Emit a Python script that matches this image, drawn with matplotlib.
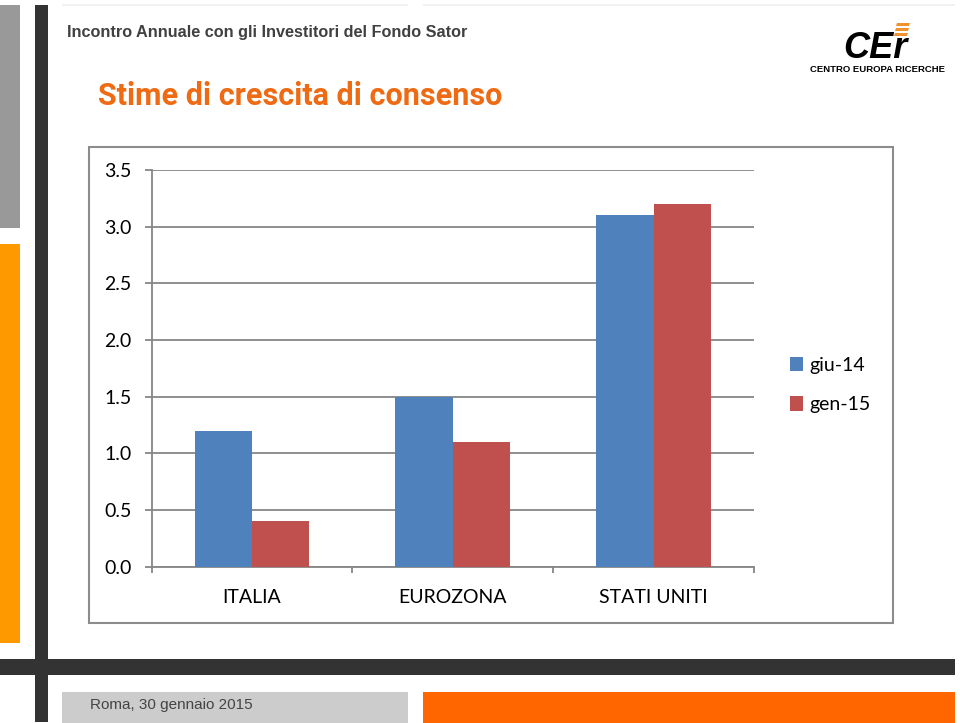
import matplotlib
matplotlib.use("Agg")
import matplotlib.pyplot as plt
from matplotlib.patches import Rectangle, Polygon
import numpy as np

# ---- data ----
categories = ["ITALIA", "EUROZONA", "STATI UNITI"]
series_names = ["giu-14", "gen-15"]
giu_14 = [1.2, 1.5, 3.1]
gen_15 = [0.4, 1.1, 3.2]
y_ticks = [0.0, 0.5, 1.0, 1.5, 2.0, 2.5, 3.0, 3.5]

header_text = "Incontro Annuale con gli Investitori del Fondo Sator"
title_text = "Stime di crescita di consenso"
footer_text = "Roma, 30 gennaio 2015"

W, H = 960, 723
fig = plt.figure(figsize=(W / 100, H / 100), dpi=100)
fig.patch.set_facecolor("white")


def rect(x, y, w, h, color, z=0):
    fig.add_artist(Rectangle((x / W, 1 - (y + h) / H), w / W, h / H,
                             transform=fig.transFigure, facecolor=color,
                             edgecolor="none", zorder=z))


def ftext(x, y, s, **kw):
    fig.text(x / W, 1 - y / H, s, **kw)


# ---- slide decorations ----
rect(0, 5, 20, 223, "#999999")
rect(0, 244, 20, 399, "#FF9900")
rect(35, 5, 13, 717, "#333333", z=2)
rect(0, 659, 955, 16, "#333333", z=1)
rect(62, 692, 346, 31, "#CCCCCC")
rect(423, 692, 532, 31, "#FF6600")
rect(62, 4, 346, 2, "#F2F2F2")
rect(423, 4, 532, 2, "#F2F2F2")

ftext(67, 33, header_text, fontsize=11.7, fontweight="bold", color="#404040",
      family="Liberation Sans", va="center", ha="left")
ftext(98, 96, title_text, fontsize=22, fontweight="bold", color="#EE6A13",
      family="Roboto", va="center", ha="left")
ftext(90, 705, footer_text, fontsize=11, color="#444444",
      family="Liberation Sans", va="center", ha="left")

# logo
ftext(875, 48, "CEr", fontsize=26, fontweight="bold", style="italic",
      color="black", family="Liberation Sans", va="center", ha="center")
for i, yy in enumerate([23, 28, 33]):
    x0 = 897 - i * 1.0
    fig.add_artist(Polygon([(x0 / W, 1 - yy / H), ((x0 + 13) / W, 1 - yy / H),
                            ((x0 + 12) / W, 1 - (yy + 3) / H), ((x0 - 1) / W, 1 - (yy + 3) / H)],
                           closed=True, transform=fig.transFigure,
                           facecolor="#F0922E", edgecolor="none"))
ftext(878, 70, "CENTRO EUROPA RICERCHE", fontsize=6.8, fontweight="bold",
      color="black", family="Liberation Sans", va="center", ha="center")

# chart border
fig.add_artist(Rectangle((89 / W, 1 - 623 / H), (893 - 89) / W, (623 - 147) / H,
                         transform=fig.transFigure, facecolor="none",
                         edgecolor="#8C8C8C", lw=1.5, zorder=3))

# ---- axes ----
L, R, T, B = 151.7, 754, 170, 566.7
ax = fig.add_axes([L / W, 1 - B / H, (R - L) / W, (B - T) / H])
ax.set_facecolor("white")

x = np.arange(len(categories))
bw = 1 / 3.5
b1 = ax.bar(x - bw / 2, giu_14, bw, color="#4F81BD", label=series_names[0], zorder=3)
b2 = ax.bar(x + bw / 2, gen_15, bw, color="#C0504D", label=series_names[1], zorder=3)

ax.set_xlim(-0.5, len(categories) - 0.5)
ax.set_ylim(0, 3.5)
ax.set_yticks(y_ticks)
ax.set_yticklabels([f"{v:.1f}" for v in y_ticks])
ax.set_xticks(x)
ax.set_xticklabels(categories)
ax.set_xticks(np.arange(len(categories) + 1) - 0.5, minor=True)

ax.grid(axis="y", color="#868686", lw=1.3, zorder=0)
for s in ["top", "right"]:
    ax.spines[s].set_visible(False)
for s in ["left", "bottom"]:
    ax.spines[s].set_color("#868686")
    ax.spines[s].set_linewidth(1.3)

ax.tick_params(axis="y", length=5, width=1.3, color="#868686", pad=9.5,
               labelsize=14, labelcolor="black")
ax.tick_params(axis="x", which="major", length=0, pad=16, labelsize=14,
               labelcolor="black")
ax.tick_params(axis="x", which="minor", length=4, width=1.3, color="#868686")
for lab in ax.get_xticklabels() + ax.get_yticklabels():
    lab.set_family("Lato")

leg = ax.legend(handles=[b1, b2], labels=series_names, loc="upper left",
                bbox_to_anchor=(790 / W, 1 - 357 / H), bbox_transform=fig.transFigure,
                frameon=False, prop={"family": "Lato", "size": 14},
                handlelength=0.68, handleheight=0.75, handletextpad=0.3,
                labelspacing=1.15, borderpad=0, borderaxespad=0)

fig.savefig("out.png", dpi=100)
